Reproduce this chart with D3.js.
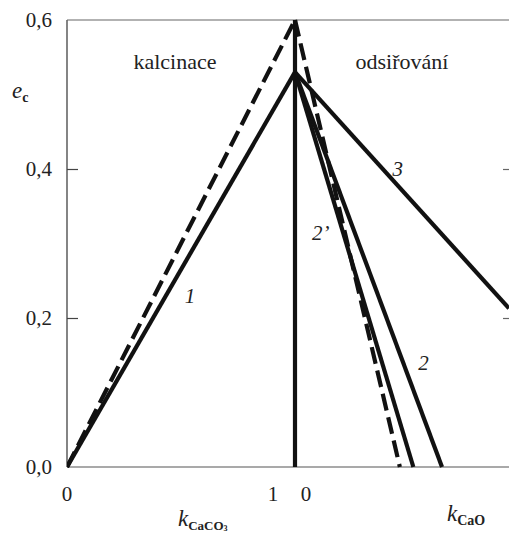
<!DOCTYPE html>
<html><head><meta charset="utf-8">
<script src="https://cdn.jsdelivr.net/npm/d3@7"></script>
<style>body{margin:0;background:#fff;} svg text, svg tspan{font-family:"Liberation Serif", serif !important;}</style>
</head><body>
<svg id="c" width="509" height="533"></svg>
<script>
const yTicks = [0, 0.2, 0.4, 0.6];
const yTickLabels = ["0,0", "0,2", "0,4", "0,6"];
// calcination side (k_CaCO3 from 0 to 1)
const calcDashed = [[0, 0], [1, 0.6]];
const calcSolid1 = [[0, 0], [1, 0.53]];
// desulfurisation side (k_CaO, relative units)
const desDashed = [[0, 0.6], [0.49, 0]];
const des2prime = [[0, 0.53], [0.553, 0]];
const des2 = [[0, 0.53], [0.687, 0]];
const des3 = [[0, 0.53], [1.0, 0.213]];
const vertical = [[0, 0], [0, 0.6]];
const curveLabels = [
  {t: "1", side: "calc", x: 0.54, y: 0.22},
  {t: "3", side: "des", x: 0.48, y: 0.39},
  {t: "2’", side: "des", x: 0.12, y: 0.305},
  {t: "2", side: "des", x: 0.6, y: 0.13}
];

const FONT = "Liberation Serif";
const svg = d3.select("#c");
const y = d3.scaleLinear().domain([0, 0.6]).range([467, 20]);
const xL = d3.scaleLinear().domain([0, 1]).range([67, 295]);
const xR = d3.scaleLinear().domain([0, 1]).range([295, 509]);
const TXT = "#222";

const g = svg.append("g");
g.append("line").attr("x1", 67).attr("x2", 67).attr("y1", y(0)).attr("y2", y(0.6)).attr("stroke", "#333").attr("stroke-width", 1.2);
g.append("line").attr("x1", 67).attr("x2", 509).attr("y1", y(0)).attr("y2", y(0)).attr("stroke", "#555").attr("stroke-width", 1.2);
g.append("line").attr("x1", 67).attr("x2", 509).attr("y1", y(0.6)).attr("y2", y(0.6)).attr("stroke", "#666").attr("stroke-width", 1.2);

const yAxis = d3.axisRight(y).tickValues(yTicks).tickSize(11).tickFormat("");
const ya = svg.append("g").attr("transform", "translate(67,0)").call(yAxis);
ya.select(".domain").remove();
ya.selectAll(".tick line").attr("stroke", "#444").attr("stroke-width", 1.2).filter(d => d === 0 || d === 0.6).remove();
const yAxisR = d3.axisLeft(y).tickValues(yTicks).tickSize(6).tickFormat("");
const yr = svg.append("g").attr("transform", "translate(509,0)").call(yAxisR);
yr.select(".domain").remove();
yr.selectAll(".tick line").attr("stroke", "#666").attr("stroke-width", 1.2).filter(d => d === 0 || d === 0.6).remove();

function txt(x, yy, size, s) {
  return svg.append("text").attr("x", x).attr("y", yy).attr("font-size", size)
    .attr("font-family", FONT).attr("fill", TXT).style("font-family", FONT).text(s);
}

yTicks.forEach((d, i) => txt(52, y(d) + 7, 21, yTickLabels[i]).attr("text-anchor", "end"));

txt(xL(0), 501, 21, "0").attr("text-anchor", "middle");
txt(xL(1) - 22, 501, 21, "1").attr("text-anchor", "middle");
txt(xR(0) + 11, 501, 21, "0").attr("text-anchor", "middle");

const t1 = txt(178, 526, 23, null);
t1.append("tspan").attr("font-style", "italic").text("k");
t1.append("tspan").attr("font-size", 13).attr("font-weight", "bold").attr("dy", 4).text("CaCO");
t1.append("tspan").attr("font-size", 8).attr("font-weight", "bold").attr("dy", 1).text("3");
const t2 = txt(447, 521, 23, null);
t2.append("tspan").attr("font-style", "italic").text("k");
t2.append("tspan").attr("font-size", 14).attr("font-weight", "bold").attr("dy", 4).text("CaO");
const t3 = txt(12, 98, 23, null);
t3.append("tspan").attr("font-style", "italic").text("e");
t3.append("tspan").attr("font-size", 14).attr("font-weight", "bold").attr("dy", 4).text("c");

txt(175, 69, 22, "kalcinace").attr("text-anchor", "middle");
txt(402, 69, 22, "odsiřování").attr("text-anchor", "middle");

const lineL = d3.line().x(d => xL(d[0])).y(d => y(d[1]));
const lineR = d3.line().x(d => xR(d[0])).y(d => y(d[1]));
svg.append("clipPath").attr("id", "pc").append("rect").attr("x", 67).attr("y", 0).attr("width", 442).attr("height", 533);
const lg = svg.append("g").attr("clip-path", "url(#pc)").attr("fill", "none").attr("stroke", "#111").attr("stroke-width", 4.2);
lg.append("path").attr("d", lineL(calcDashed)).attr("stroke-dasharray", "17,7");
lg.append("path").attr("d", lineL(calcSolid1));
lg.append("path").attr("d", lineR(vertical));
lg.append("path").attr("d", lineR(desDashed)).attr("stroke-dasharray", "17,7");
lg.append("path").attr("d", lineR(des2prime));
lg.append("path").attr("d", lineR(des2));
lg.append("path").attr("d", lineR(des3));

curveLabels.forEach(d => txt((d.side === "calc" ? xL : xR)(d.x), y(d.y), 21, d.t)
  .attr("font-style", "italic").attr("text-anchor", "middle"));
</script>
</body></html>
